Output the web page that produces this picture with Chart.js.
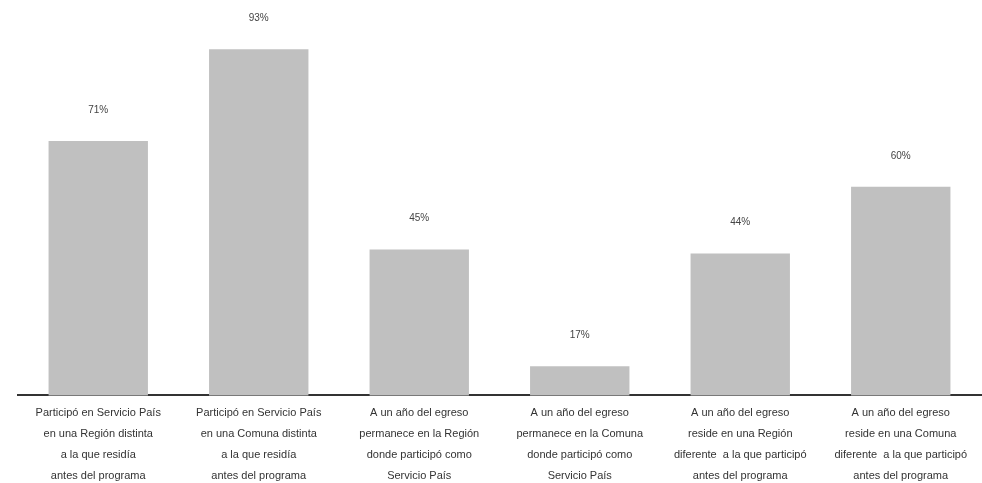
<!DOCTYPE html>
<html>
<head>
<meta charset="utf-8">
<script src="https://cdn.jsdelivr.net/npm/chart.js@4.4.1/dist/chart.umd.min.js"></script>
<style>
  html, body { margin: 0; padding: 0; background: #ffffff; }
  #wrap { width: 982px; height: 483px; }
</style>
</head>
<body>
<div id="wrap"><canvas id="chart" width="982" height="483"></canvas></div>
<script>
// Categories (multi-line axis labels)
const categories = [
  ["Participó en Servicio País", "en una Región distinta", "a la que residía", "antes del programa"],
  ["Participó en Servicio País", "en una Comuna distinta", "a la que residía", "antes del programa"],
  ["A un año del egreso", "permanece en la Región", "donde participó como", "Servicio País"],
  ["A un año del egreso", "permanece en la Comuna", "donde participó como", "Servicio País"],
  ["A un año del egreso", "reside en una Región", "diferente  a la que participó", "antes del programa"],
  ["A un año del egreso", "reside en una Comuna", "diferente  a la que participó", "antes del programa"]
];

// Percentages
const percentages = [71, 93, 45, 17, 44, 60];

// Value labels drawn above each bar
const valueLabels = {
  id: 'valueLabels',
  afterDatasetsDraw(chart) {
    const ctx = chart.ctx;
    const meta = chart.getDatasetMeta(0);
    ctx.save();
    ctx.font = '10px "Liberation Sans", Arial, sans-serif';
    ctx.fillStyle = '#444444';
    ctx.textAlign = 'center';
    ctx.textBaseline = 'middle';
    meta.data.forEach((bar, i) => {
      ctx.fillText(percentages[i] + '%', bar.x, bar.y - 31);
    });
    ctx.restore();
  }
};

new Chart(document.getElementById('chart'), {
  type: 'bar',
  data: {
    labels: categories,
    datasets: [{
      data: percentages,
      backgroundColor: '#c0c0c0',
      borderWidth: 0,
      barPercentage: 0.72,
      categoryPercentage: 0.86
    }]
  },
  options: {
    responsive: false,
    animation: false,
    layout: { padding: { left: 18, right: 1, top: 20, bottom: -10 } },
    plugins: {
      legend: { display: false },
      tooltip: { enabled: false }
    },
    scales: {
      x: {
        grid: { display: false, drawTicks: false },
        border: { display: true, color: '#333333', width: 2 },
        ticks: {
          color: '#333333',
          padding: 7,
          maxRotation: 0,
          autoSkip: false,
          font: { family: '"Liberation Sans", Arial, sans-serif', size: 11, lineHeight: 1.9 }
        }
      },
      y: {
        display: false,
        min: 10,
        max: 100
      }
    }
  },
  plugins: [valueLabels]
});
</script>
</body>
</html>
